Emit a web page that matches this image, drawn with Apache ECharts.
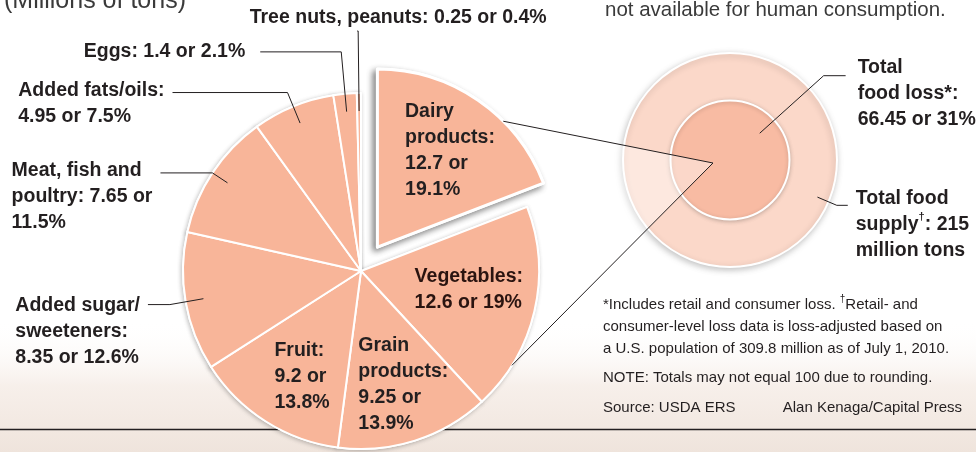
<!DOCTYPE html>
<html>
<head>
<meta charset="utf-8">
<title>Food loss by commodity</title>
<script src="https://cdn.jsdelivr.net/npm/echarts@6.0.0/dist/echarts.min.js"></script>
<style>
  html, body { margin: 0; padding: 0; background: #fff; }
  #chart { width: 976px; height: 452px; }
</style>
</head>
<body>
<div id="chart"></div>
<script>
// food lost at retail and consumer level, millions of tons
var groupNames = ['Dairy\nproducts', 'Vegetables', 'Grain\nproducts', 'Fruit',
                  'Added sugar/\nsweeteners', 'Meat, fish and\npoultry', 'Added fats/oils',
                  'Eggs', 'Tree nuts, peanuts'];
var lossTons = [12.7, 12.6, 9.25, 9.2, 8.35, 7.65, 4.95, 1.4, 0.25];
var lossShare = [19.1, 19, 13.9, 13.8, 12.6, 11.5, 7.5, 2.1, 0.4];

var totalSupply = 215;
var totalLoss = 66.45;
var totalLossShare = 31;

// where each label text breaks: after the name, after the amount
var labelBreaks = [[':\n', ' or\n'], [':\n', ' or '], [':\n', ' or\n'], [':\n', ' or\n'],
                   [':\n', ' or '], [': ', ' or\n'], [':\n', ' or '], [': ', ' or '], [': ', ' or ']];

var FONT = "'Liberation Sans', Arial, sans-serif";
var INK = '#231f20';
var SALMON = '#f8b599';
var LABEL_SIZE = 19.5;

var pieCenter = [361, 271], pieR = 178, explode = 29;
var ringCenter = [730, 160], ringR = 107;

// outside labels: leader lengths, gap to text, padding puts first text line on the leader
var outside = {
  4: { len: 34, len2: 22, gap: 8, pad: [55, 0, 0, 0] },
  5: { len: 18, len2: 52, gap: 8, pad: [48, 0, 0, 0] },
  6: { len: 33, len2: 115, gap: 8, pad: [22, 0, 0, 0] },
  7: { len: 60, len2: 81, gap: 15, pad: 0 },
  8: { len: 80, len2: 1, gap: 8, pad: [0, 0, 0, 98] }
};
// nudges for the labels inside the slices
var insidePad = { 0: [10, 0, 0, 6], 1: [0, 24, 18, 0], 2: [0, 0, 8, 10], 3: [4, 0, 0, 14] };

function richStyle(color) {
  return {
    l: { align: 'left', color: color, fontFamily: FONT, fontWeight: 'bold', fontSize: LABEL_SIZE, lineHeight: 26 },
    d: { align: 'left', color: color, fontFamily: FONT, fontWeight: 'bold', fontSize: 11, lineHeight: 18, verticalAlign: 'top' }
  };
}
function richLines(text) {
  return text.split('\n').map(function (s) { return '{l|' + s + '}'; }).join('\n');
}
function groupLabel(i) {
  return richLines(groupNames[i] + labelBreaks[i][0] + lossTons[i] + labelBreaks[i][1] + lossShare[i] + '%');
}
function polar(c, r, deg) {
  var a = deg * Math.PI / 180;
  return [c[0] + r * Math.sin(a), c[1] - r * Math.cos(a)];
}

var sum = lossTons.reduce(function (a, b) { return a + b; }, 0);
var dairyCenter = polar(pieCenter, explode, lossTons[0] / sum * 180);
var coneTop = polar(dairyCenter, pieR, 45);
var coneBottom = polar(pieCenter, pieR, 122);
var coneTip = [ringCenter[0] - 17, ringCenter[1] + 3];

var sliceData = lossTons.map(function (v, i) {
  var d = { name: groupNames[i], value: v, selected: i === 0 };
  if (i === 0) d.itemStyle = { borderWidth: 3 };
  return d;
});
var shadowData = lossTons.map(function (v, i) {
  var d = { name: groupNames[i], value: v, selected: i === 0 };
  d.itemStyle = i === 0
    ? { borderWidth: 3, shadowBlur: 6, shadowOffsetX: -3, shadowOffsetY: 3, shadowColor: 'rgba(0,0,0,0.45)' }
    : { shadowBlur: 4, shadowOffsetX: -1, shadowOffsetY: 1, shadowColor: 'rgba(0,0,0,0.22)' };
  return d;
});
var labelData = lossTons.map(function (v, i) {
  var d = { name: groupNames[i], value: v, selected: i === 0 };
  var o = outside[i];
  if (o) {
    d.label = { position: 'outside', padding: o.pad, distanceToLabelLine: o.gap };
    d.labelLine = { show: true, length: o.len, length2: o.len2 };
  } else {
    d.label = { position: 'inside', padding: insidePad[i], rich: richStyle(i === 1 ? '#2a1410' : INK) };
    d.labelLine = { show: false };
  }
  return d;
});

var pieBase = {
  type: 'pie', silent: true, animation: false,
  center: pieCenter, startAngle: 90, clockwise: true,
  selectedMode: 'multiple', selectedOffset: explode,
  avoidLabelOverlap: false,
  emphasis: { disabled: true }
};

var chart = echarts.init(document.getElementById('chart'));

chart.setOption({
  animation: false,
  backgroundColor: '#fff',
  series: [
    // outer circle: total food supply
    {
      type: 'pie', z: 1, silent: true, center: ringCenter, radius: ringR,
      label: { show: false }, labelLine: { show: false }, emphasis: { disabled: true },
      itemStyle: { color: '#fbd8c9', borderColor: '#fff', borderWidth: 2,
                   shadowBlur: 6, shadowOffsetX: -1, shadowOffsetY: 2, shadowColor: 'rgba(0,0,0,0.22)' },
      data: [{ name: 'Total food supply', value: totalSupply }]
    },
    // inner circle: total food loss, area to scale
    {
      type: 'pie', z: 1, silent: true, center: ringCenter,
      radius: ringR * Math.sqrt(totalLoss / totalSupply),
      label: { show: false }, labelLine: { show: false }, emphasis: { disabled: true },
      itemStyle: { color: '#f8bba3', borderColor: '#fff', borderWidth: 2,
                   shadowBlur: 4, shadowOffsetY: 1, shadowColor: 'rgba(0,0,0,0.2)' },
      data: [{ name: 'Total food loss', value: totalLoss }]
    },
    // leader + label for the loss circle
    {
      type: 'pie', z: 6, silent: true, center: ringCenter, radius: 40,
      startAngle: 222, avoidLabelOverlap: false, emphasis: { disabled: true },
      itemStyle: { color: 'rgba(0,0,0,0)' },
      label: {
        position: 'outside', distanceToLabelLine: 12, padding: [36, 0, 0, 0],
        formatter: function () { return richLines('Total\nfood loss*:\n' + totalLoss + ' or ' + totalLossShare + '%'); },
        rich: richStyle(INK)
      },
      labelLine: { show: true, length: 86, length2: 22, lineStyle: { color: INK, width: 1 } },
      data: [{ name: 'Total food loss', value: totalLoss }]
    },
    // leader + label for the supply circle
    {
      type: 'pie', z: 6, silent: true, center: ringCenter, radius: 95,
      startAngle: 157, avoidLabelOverlap: false, emphasis: { disabled: true },
      itemStyle: { color: 'rgba(0,0,0,0)' },
      label: {
        position: 'outside', distanceToLabelLine: 8, padding: [39, 0, 0, 0],
        formatter: function () { return '{l|Total food}\n{l|supply}{d|\u2020}{l|: ' + totalSupply + '}\n{l|million tons}'; },
        rich: richStyle(INK)
      },
      labelLine: { show: true, length: 21, length2: 11, lineStyle: { color: INK, width: 1 } },
      data: [{ name: 'Total food supply', value: totalSupply }]
    },
    // shadow under the pie
    Object.assign({}, pieBase, {
      z: 4, radius: pieR,
      label: { show: false }, labelLine: { show: false },
      itemStyle: { color: SALMON, borderColor: '#fff', borderWidth: 2 },
      select: { itemStyle: { color: SALMON, borderColor: '#fff' } },
      data: shadowData
    }),
    // the pie
    Object.assign({}, pieBase, {
      z: 5, radius: pieR,
      label: { show: false }, labelLine: { show: false },
      itemStyle: { color: SALMON, borderColor: '#fff', borderWidth: 2 },
      select: { itemStyle: { color: SALMON, borderColor: '#fff' } },
      data: sliceData
    }),
    // labels and leaders of the pie
    Object.assign({}, pieBase, {
      z: 6, radius: [80, 160],
      itemStyle: { color: 'rgba(0,0,0,0)', borderWidth: 0 },
      select: { itemStyle: { color: 'rgba(0,0,0,0)', borderWidth: 0 } },
      label: {
        formatter: function (p) { return groupLabel(p.dataIndex); },
        color: INK, distanceToLabelLine: 8,
        rich: richStyle(INK)
      },
      labelLine: { lineStyle: { color: INK, width: 1 } },
      labelLayout: function (p) {
        if (p.dataIndex === 8) return { align: 'center', verticalAlign: 'bottom' };
      },
      data: labelData
    })
  ],
  graphic: [
    {
      type: 'rect', z: 0, silent: true,
      shape: { x: 0, y: 320, width: 976, height: 132 },
      style: {
        fill: new echarts.graphic.LinearGradient(0, 0, 0, 1, [
          { offset: 0, color: 'rgba(255,255,255,0)' },
          { offset: 0.5, color: 'rgba(244,234,227,0.75)' },
          { offset: 1, color: '#efe4dc' }
        ])
      }
    },
    {
      type: 'line', z: 2, silent: true,
      shape: { x1: 0, y1: 429.5, x2: 976, y2: 429.5 },
      style: { stroke: INK, lineWidth: 1.5 }
    },
    {
      type: 'polygon', z: 3, silent: true,
      shape: { points: [coneTop, coneTip, coneBottom] },
      style: { fill: 'rgba(255,255,255,0.42)' }
    },
    {
      type: 'polyline', z: 7, silent: true,
      shape: { points: [coneTop, coneTip, coneBottom] },
      style: { stroke: INK, lineWidth: 1, fill: null }
    },
    {
      type: 'text', z: 10, x: 4, y: 14,
      style: { text: '(Millions of tons)', fontFamily: FONT, fontSize: 25, fill: '#3a3a3a', verticalAlign: 'bottom' }
    },
    {
      type: 'text', z: 10, x: 605, y: 21,
      style: { text: 'not available for human consumption.', fontFamily: FONT, fontSize: 20.5, fill: '#3a3a3a', verticalAlign: 'bottom' }
    },
    {
      type: 'text', z: 10, x: 603, y: 327,
      style: {
        text: '*Includes retail and consumer loss. {d|\u2020}Retail- and\nconsumer-level loss data is loss-adjusted based on\na U.S. population of 309.8 million as of July 1, 2010.',
        fontFamily: FONT, fontSize: 15, lineHeight: 22, fill: INK, verticalAlign: 'middle',
        rich: { d: { fontFamily: FONT, fontSize: 10, lineHeight: 14, verticalAlign: 'top', fill: INK } }
      }
    },
    {
      type: 'text', z: 10, x: 603, y: 378,
      style: { text: 'NOTE: Totals may not equal 100 due to rounding.', fontFamily: FONT, fontSize: 15, fill: INK, verticalAlign: 'middle' }
    },
    {
      type: 'text', z: 10, x: 603, y: 408,
      style: { text: 'Source: USDA ERS', fontFamily: FONT, fontSize: 15, fill: INK, verticalAlign: 'middle' }
    },
    {
      type: 'text', z: 10, x: 962, y: 408,
      style: { text: 'Alan Kenaga/Capital Press', fontFamily: FONT, fontSize: 15, fill: INK, align: 'right', verticalAlign: 'middle' }
    }
  ]
});
</script>
</body>
</html>
